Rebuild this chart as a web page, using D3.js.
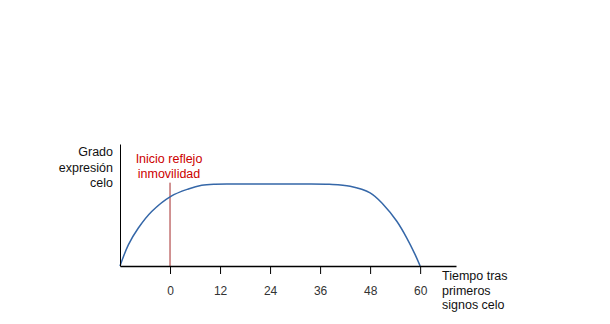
<!DOCTYPE html>
<html><head><meta charset="utf-8">
<script src="https://cdn.jsdelivr.net/npm/d3@7/dist/d3.min.js"></script>
<style>body{margin:0;background:#fff;} svg{display:block;} text{font-family:"Liberation Sans",Arial,sans-serif;}</style>
</head><body>
<script>
const hours = [-12, -10, -7.6, -4.4, 0.2, 4.4, 7.6, 10.8, 16, 24, 32, 38.2, 43.2, 48, 51.2, 54.4, 56.8, 58.8, 60];
const expression = [0, 26, 46.7, 67, 85.7, 94.7, 99.2, 100.6, 100.8, 100.8, 100.8, 100.4, 98, 89.8, 75.4, 55, 34.4, 14, 0];
const tickValues = [0, 12, 24, 36, 48, 60];
const markerHour = 0;
const yLabel = ["Grado", "expresión", "celo"];
const xLabel = ["Tiempo tras", "primeros", "signos celo"];
const markerLabel = ["Inicio reflejo", "inmovilidad"];

const W = 610, H = 324;
const svg = d3.select("body").append("svg").attr("width", W).attr("height", H);
const x = d3.scaleLinear().domain([-12, 68.6]).range([120, 456]);
const y = d3.scaleLinear().domain([0, 150]).range([266, 144]);

// marker line
svg.append("line").attr("x1", x(markerHour)).attr("x2", x(markerHour))
  .attr("y1", y(0)).attr("y2", y(100) - 2)
  .attr("stroke", "#a52a2a").attr("stroke-width", 1);

// curve
svg.append("path").datum(hours.map((h, i) => [h, expression[i]]))
  .attr("d", d3.line().x(d => x(d[0])).y(d => y(d[1])).curve(d3.curveCatmullRom.alpha(0.5)))
  .attr("fill", "none").attr("stroke", "#3567a8").attr("stroke-width", 1.5);

// axes
const xa = svg.append("g").attr("transform", `translate(0,${y(0)})`)
  .call(d3.axisBottom(x).tickValues(tickValues).tickSize(8).tickSizeOuter(0).tickPadding(12));
xa.select(".domain").attr("stroke", "#000").attr("stroke-width", 1.5);
xa.selectAll(".tick line").attr("stroke", "#000").attr("stroke-width", 1);
xa.selectAll(".tick text").attr("font-size", 12).attr("fill", "#333").attr("font-family", "Liberation Sans, Arial, sans-serif");

const ya = svg.append("g").attr("transform", `translate(${x(-12)},0)`)
  .call(d3.axisLeft(y).tickValues([]).tickSizeOuter(0));
ya.select(".domain").attr("stroke", "#000").attr("stroke-width", 1);

// labels
svg.append("text").attr("text-anchor", "end").attr("font-size", 12.5).attr("fill", "#111")
  .selectAll("tspan").data(yLabel).join("tspan")
  .attr("x", 113).attr("y", (d, i) => 156 + i * 15.5).text(d => d);

svg.append("text").attr("text-anchor", "start").attr("font-size", 12.5).attr("fill", "#111")
  .selectAll("tspan").data(xLabel).join("tspan")
  .attr("x", 442).attr("y", (d, i) => 280 + i * 14.5).text(d => d);

svg.append("text").attr("text-anchor", "middle").attr("font-size", 12.5).attr("fill", "#cc0000")
  .selectAll("tspan").data(markerLabel).join("tspan")
  .attr("x", 169).attr("y", (d, i) => 162.5 + i * 15.5).text(d => d);
</script>
</body></html>
